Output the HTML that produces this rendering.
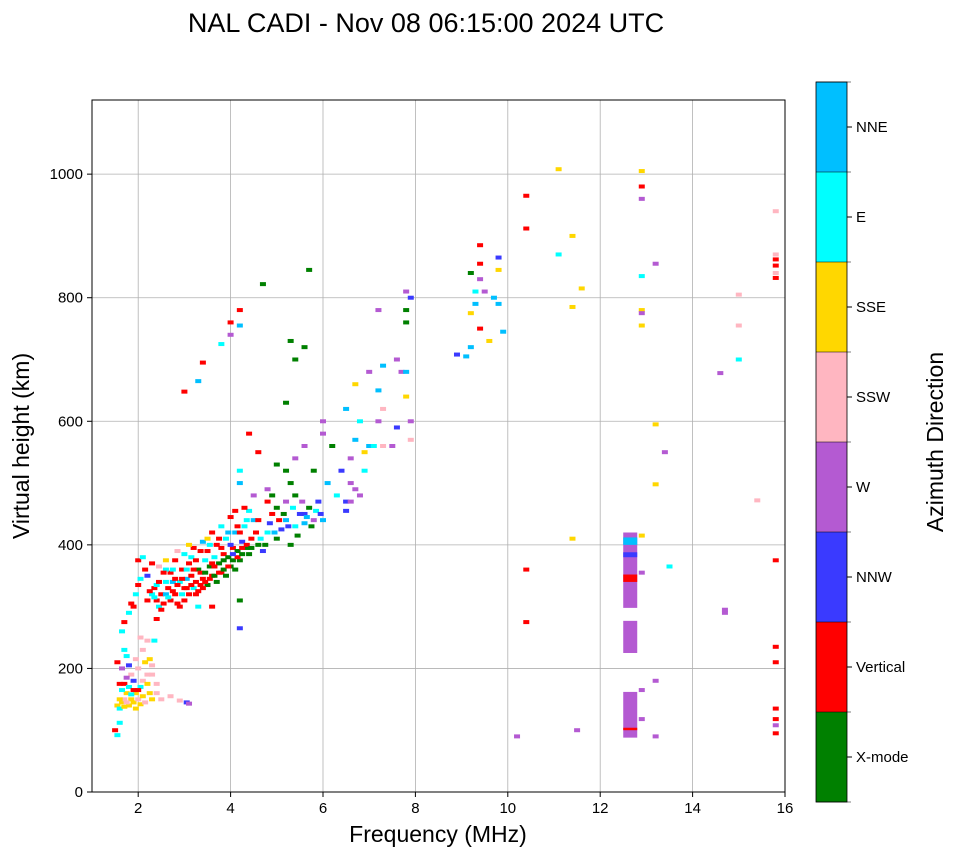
<!DOCTYPE html>
<html><head><meta charset="utf-8">
<style>
body{margin:0;background:#fff;font-family:"Liberation Sans","DejaVu Sans",sans-serif;}
svg text{font-family:"Liberation Sans","DejaVu Sans",sans-serif;}
</style></head>
<body>
<svg id="chart" width="958" height="857" viewBox="0 0 958 857" xmlns="http://www.w3.org/2000/svg">
<text x="426" y="32" text-anchor="middle" font-size="27">NAL CADI - Nov 08 06:15:00 2024 UTC</text>
<g id="grid"></g>
<g id="marks"></g>
<rect x="92" y="100" width="693" height="692" fill="none" stroke="#000" stroke-width="1"/>
<g id="axes"></g>
<text x="438" y="842" text-anchor="middle" font-size="23">Frequency (MHz)</text>
<text transform="translate(29,446) rotate(-90)" text-anchor="middle" font-size="23">Virtual height (km)</text>
<g id="cbar"></g>
<text transform="translate(943,442) rotate(-90)" text-anchor="middle" font-size="23">Azimuth Direction</text>
</svg>
<script>
const xTicks=[2,4,6,8,10,12,14,16];
const yTicks=[0,200,400,600,800,1000];
const categories=["X-mode","Vertical","NNW","W","SSW","SSE","E","NNE"];
const catColors=["#008000","#ff0000","#3a3aff","#b45ad2","#ffb6c1","#ffd700","#00ffff","#00bfff"];
// [freq MHz, height km, azimuth index]
const echoes=[
[1.5,100,1],[1.55,92,6],[1.6,112,6],[1.55,140,5],[1.6,135,6],[1.65,145,5],[1.7,150,4],[1.75,160,5],[1.8,140,5],[1.85,150,5],[1.9,145,5],[1.95,160,5],[2.0,150,4],[2.05,142,5],[2.15,145,4],[2.3,150,5],[2.5,150,4],[2.7,155,4],[2.9,148,4],[3.05,145,2],[3.1,143,3],
[1.7,175,1],[1.8,170,6],[1.9,180,2],[1.6,175,1],[1.55,210,1],[1.65,200,3],[1.75,220,6],[1.85,190,4],[2.0,200,4],[2.1,180,4],[2.2,175,5],[2.3,190,4],[2.1,230,4],[2.2,245,4],[2.35,245,6],[1.9,165,1],[2.05,170,6],[1.8,205,2],[2.25,160,5],
[1.6,150,5],[1.7,138,5],[1.75,145,4],[1.85,158,6],[1.95,135,5],[2.0,165,1],[2.1,155,5],[2.2,190,4],[2.3,205,4],[2.4,160,4],[2.15,210,5],[1.65,165,6],[1.75,185,3],[1.95,215,4],[2.05,250,4],[1.7,230,6],[2.25,215,5],[2.4,175,4],
[1.65,260,6],[1.7,275,1],[1.8,290,6],[1.85,305,1],[1.95,320,6],[2.0,335,1],[2.05,345,6],[2.0,375,1],[2.1,380,6],[2.15,360,1],[2.2,350,2],[2.3,370,1],[2.35,330,1],[2.4,310,1],[2.45,300,6],[2.5,320,1],[2.6,340,6],[2.65,330,1],[2.7,355,1],[2.75,340,7],[2.8,320,1],[2.85,305,1],[2.9,340,6],[2.95,360,1],[3.0,330,1],[3.05,345,7],[3.1,370,1],[3.15,350,1],[3.2,330,6],[3.25,340,1],[3.3,360,0],[3.35,355,1],[3.4,345,1],[3.45,375,6],[3.5,390,1],[3.55,365,0],[3.6,350,1],[3.65,380,6],[3.7,400,1],[3.75,370,0],[3.8,355,1],[3.85,385,1],[3.9,410,6],[3.95,380,0],[4.0,365,0],[4.05,395,1],[4.1,420,7],[4.15,390,0],[4.2,375,0],[4.25,405,2],[4.3,430,6],[4.35,395,0],[4.4,385,0],[4.45,410,1],[4.5,440,7],[4.6,400,0],[4.7,390,2],[4.8,420,6],[4.9,450,1],[5.0,410,0],[5.1,425,2],[5.2,440,7],[5.3,400,0],[5.4,430,6],[5.5,450,2],[5.6,435,7],[5.7,460,0],[5.8,440,3],[5.9,470,2],[6.0,440,7],
[2.3,320,6],[2.5,295,1],[2.7,310,1],[2.9,300,1],[3.0,310,1],[3.1,320,1],[3.3,325,1],[3.5,335,0],[3.7,340,0],[3.9,350,0],[4.1,360,0],[2.6,360,6],[2.8,375,1],[3.0,385,6],[3.2,395,1],[3.4,405,7],[3.6,420,1],[3.8,430,6],[4.0,445,1],[2.4,335,6],[2.6,320,7],[2.8,345,1],[3.2,360,1],[3.4,330,1],[3.6,370,1],[3.8,395,1],[4.0,400,2],[4.2,420,1],[4.4,455,6],[4.6,440,1],[4.8,470,1],[5.0,460,0],[5.2,470,3],[5.4,480,0],[5.6,450,2],[4.2,310,0],[4.2,265,2],[2.2,310,1],[2.4,280,1],[1.9,300,1],
[2.25,325,1],[2.35,315,6],[2.45,340,1],[2.55,305,1],[2.65,315,6],[2.75,325,1],[2.85,335,1],[2.95,320,6],[3.05,330,1],[3.15,335,1],[3.25,320,1],[3.35,335,1],[3.45,340,1],[3.55,345,1],[3.65,350,0],[3.75,355,1],[3.85,360,0],[3.95,365,1],[4.05,375,0],[4.15,380,1],[4.25,385,0],[4.35,400,1],[2.55,355,1],[2.75,360,6],[2.95,345,1],[3.15,380,6],[3.35,390,1],[3.55,400,6],[3.75,410,1],[3.95,420,7],[4.15,430,1],[4.35,440,6],[3.05,360,6],[3.25,375,1],[3.45,355,0],[3.65,365,1],[3.85,375,0],[4.05,385,2],[4.25,395,1],[4.45,395,0],[4.55,420,1],[4.65,410,6],[4.75,400,0],[4.85,435,2],[4.95,420,7],[5.05,440,1],[5.15,450,0],[5.25,430,2],[5.35,460,6],[5.45,415,0],[5.55,470,3],[5.65,445,7],[5.75,430,0],[5.85,455,6],[5.95,450,2],[2.45,365,4],[2.6,375,5],[2.85,390,4],[3.1,400,5],[3.5,410,5],[3.3,300,6],[3.6,300,1],
[4.2,500,7],[4.2,520,6],[4.4,580,1],[4.6,550,1],[4.8,490,3],[5.0,530,0],[5.2,520,0],[5.4,540,3],[5.6,560,3],[5.8,520,0],[6.0,580,3],[6.0,600,3],[6.2,560,0],[6.4,520,2],[6.5,470,2],[6.6,500,3],[6.7,570,7],[6.8,480,3],[6.9,520,6],[7.0,560,7],[7.2,600,3],[7.2,650,7],[7.3,690,7],[7.5,560,3],[7.6,590,2],[7.7,680,3],[7.8,640,5],[7.8,680,7],[7.9,600,3],[7.9,570,4],[6.5,620,7],[6.7,660,5],[7.0,680,3],[7.3,620,4],[6.6,540,3],[6.8,600,6],
[6.1,500,7],[6.3,480,6],[6.5,455,2],[6.6,470,3],[6.7,490,3],[6.9,550,5],[7.1,560,6],[7.3,560,4],[4.5,480,3],[4.9,480,0],[5.3,500,0],[4.3,460,1],[4.1,455,1],
[5.2,630,0],[5.4,700,0],[5.6,720,0],[5.3,730,0],[5.7,845,0],[4.7,822,0],[3.0,648,1],[3.4,695,1],[3.3,665,7],[3.8,725,6],[4.0,760,1],[4.2,780,1],[4.2,755,7],[4.0,740,3],[7.2,780,3],[7.6,700,3],[7.8,760,0],[7.8,780,0],[7.8,810,3],[7.9,800,2],
[8.9,708,2],[9.1,705,7],[9.2,720,7],[9.2,775,5],[9.3,790,7],[9.4,885,1],[9.4,855,1],[9.4,750,1],[9.2,840,0],[9.5,810,3],[9.6,730,5],[9.7,800,7],[9.8,865,2],[9.8,845,5],[9.8,790,7],[9.9,745,7],[9.4,830,3],[9.3,810,6],
[10.4,965,1],[10.4,912,1],[10.4,360,1],[10.4,275,1],[10.2,90,3],[11.1,1008,5],[11.4,900,5],[11.1,870,6],[11.6,815,5],[11.4,785,5],[11.4,410,5],[11.5,100,3],
[12.9,1005,5],[12.9,980,1],[12.9,960,3],[12.9,835,6],[13.2,855,3],[12.9,780,5],[12.9,775,3],[12.9,755,5],[13.2,595,5],[13.4,550,3],[13.2,498,5],[12.9,415,5],[12.9,355,3],[13.5,365,6],[13.2,180,3],[12.9,165,3],[12.9,118,3],[13.2,90,3],
[14.6,678,3],[14.7,295,3],[14.7,290,3],[15.0,805,4],[15.0,755,4],[15.0,700,6],[15.4,472,4],[15.8,940,4],[15.8,870,4],[15.8,862,1],[15.8,852,1],[15.8,840,4],[15.8,832,1],[15.8,375,1],[15.8,235,1],[15.8,210,1],[15.8,135,1],[15.8,118,1],[15.8,108,3],[15.8,95,1]
];
// vertical purple columns at 12.65 MHz: [freq, hLow, hHigh, azimuth]
const columns=[[12.65,88,162,3],[12.65,225,277,3],[12.65,298,420,3],[12.65,340,352,1],[12.65,100,104,1],[12.65,400,412,7],[12.65,380,388,2]];

const X0=92,X1=785,Y0=792,Y1=100,fMin=1,fMax=16,hMin=0,hMax=1120;
const xs=f=>X0+(f-fMin)/(fMax-fMin)*(X1-X0);
const ys=h=>Y0-(h-hMin)/(hMax-hMin)*(Y0-Y1);
const NS="http://www.w3.org/2000/svg";
function mk(tag,attrs,parent,txt){const e=document.createElementNS(NS,tag);for(const k in attrs)e.setAttribute(k,attrs[k]);if(txt!==undefined)e.textContent=txt;parent.appendChild(e);return e;}
const grid=document.getElementById('grid'),axes=document.getElementById('axes'),marks=document.getElementById('marks'),cbar=document.getElementById('cbar');
xTicks.forEach(t=>{const x=xs(t);
 const g=mk('line',{x1:x,x2:x,y1:Y1,y2:Y0,stroke:'#b0b0b0','stroke-width':0.8},grid);
 
 
 mk('line',{x1:x,x2:x,y1:Y0,y2:Y0+5,stroke:'#000'},axes);
 const l=mk('text',{x:x,y:Y0+21,'text-anchor':'middle','font-size':15},axes,t);
 
 
});
yTicks.forEach(t=>{const y=ys(t);
 const g=mk('line',{x1:X0,x2:X1,y1:y,y2:y,stroke:'#b0b0b0','stroke-width':0.8},grid);
 
 
 mk('line',{x1:X0-5,x2:X0,y1:y,y2:y,stroke:'#000'},axes);
 const l=mk('text',{x:X0-9,y:y+5,'text-anchor':'end','font-size':15},axes,t);
 
 
});
columns.forEach(c=>{
 const r=mk('rect',{x:xs(c[0])-7,y:ys(c[2]),width:14,height:ys(c[1])-ys(c[2]),fill:catColors[c[3]]},marks);
 
 
});
echoes.forEach(p=>{
 const r=mk('rect',{x:xs(p[0])-3,y:ys(p[1])-2,width:6,height:4,fill:catColors[p[2]]},marks);
 
 
});
// colorbar
const CB_X=816,CB_W=31,CB_T=82,CB_B=802,seg=(CB_B-CB_T)/categories.length;
categories.forEach((c,i)=>{
 const y=CB_B-(i+1)*seg;
 const r=mk('rect',{x:CB_X,y:y,width:CB_W,height:seg,fill:catColors[i]},cbar);
 
 
 mk('line',{x1:CB_X+CB_W,x2:CB_X+CB_W+5,y1:y+seg/2,y2:y+seg/2,stroke:'#000'},cbar);
 const l=mk('text',{x:CB_X+CB_W+9,y:y+seg/2+5,'font-size':15},cbar,c);
 
 
});
for(let i=0;i<=categories.length;i++){const y=CB_T+i*seg;mk('line',{x1:CB_X,x2:CB_X+CB_W+4,y1:y,y2:y,stroke:'#000','stroke-width':0.6},cbar);}
mk('rect',{x:CB_X,y:CB_T,width:CB_W,height:CB_B-CB_T,fill:'none',stroke:'#000','stroke-width':0.8},cbar);
</script>
</body></html>
